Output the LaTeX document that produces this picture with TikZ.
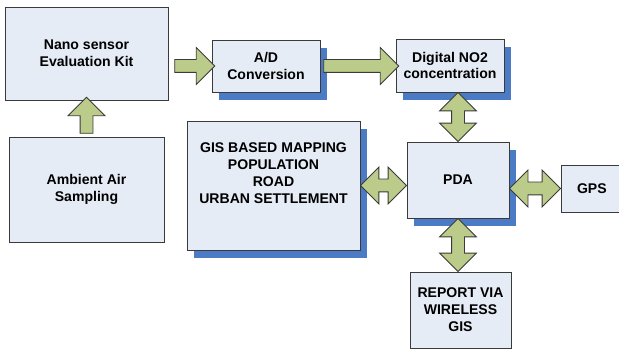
\documentclass[tikz,border=0pt]{standalone}
\usepackage{fontspec}
\setmainfont{Liberation Sans}
\usetikzlibrary{shapes.arrows,shadows,calc}

\definecolor{boxfill}{HTML}{E6ECF6}
\definecolor{boxshadow}{HTML}{4A7BC4}
\definecolor{arrowfill}{HTML}{BACB8A}
\definecolor{boxline}{HTML}{3A3A3A}

\tikzset{
  block/.style={rectangle, draw=boxline, line width=0.7pt, fill=boxfill, align=center,
    font=\bfseries\fontsize{10}{12}\selectfont},
  shadowed/.style={block, drop shadow={shadow xshift=0.175cm, shadow yshift=-0.2cm, fill=boxshadow, opacity=1}},
  flow/.style={draw=boxline, line width=0.6pt, fill=arrowfill, inner xsep=0pt, inner ysep=0.15cm},
  oneway/.style={flow, single arrow, single arrow head extend=0.3cm},
  twoway/.style={flow, double arrow, double arrow head extend=0.3cm}
}

\newcommand{\blockarrow}[3]{%
  \path let \p1=#2, \p2=#3, \n1={veclen(\x2-\x1,\y2-\y1)}, \n2={atan2(\y2-\y1,\x2-\x1)} in
    node[#1, minimum height=\n1, rotate=\n2] at ($(\p1)!0.5!(\p2)$) {};}

\begin{document}
\begin{tikzpicture}
  \clip (0,0) rectangle (15.475,-8.725);
  \node (nano) [block, minimum width=4.075cm, minimum height=2.325cm] at (2.1625,-1.3375) {Nano sensor\\Evaluation Kit};
  \node (ad) [shadowed, minimum width=2.7cm, minimum height=1.3cm] at (6.65,-1.65) {A/D\\Conversion};
  \node (no2) [shadowed, minimum width=2.7cm, minimum height=1.325cm] at (11.25,-1.6375) {Digital NO2\\concentration};
  \node (air) [block, minimum width=3.875cm, minimum height=2.625cm] at (2.1625,-4.7375) {Ambient Air\\Sampling};
  \node (gis) [shadowed, minimum width=4.325cm, minimum height=3.225cm] at (6.8375,-4.6375) {GIS BASED MAPPING\\POPULATION\\ROAD\\URBAN SETTLEMENT\\[0.2cm]};
  \node (pda) [shadowed, minimum width=2.55cm, minimum height=1.9cm] at (11.45,-4.5) {PDA};
  \node (gps) [block, minimum height=1.175cm, inner xsep=0pt, text width=2.6cm, align=left] at (15.325,-4.7125) {\hspace*{0.4cm}GPS};
  \node (report) [block, minimum width=2.525cm, minimum height=1.9cm] at (11.5125,-7.75) {REPORT VIA\\WIRELESS\\GIS};

  \blockarrow{oneway}{($(nano.east |- ad.west)+(0.075,0)$)}{(ad.west)}
  \blockarrow{oneway}{(ad.east)}{(ad.east -| no2.west)}
  \blockarrow{oneway}{(air.north)}{(nano.south)}
  \blockarrow{twoway}{(no2.south -| pda.north)}{(pda.north)}
  \blockarrow{twoway}{(gis.east)}{(gis.east -| pda.west)}
  \blockarrow{twoway}{(pda.east |- gps.west)}{(gps.west)}
  \blockarrow{twoway}{(pda.south)}{(pda.south |- report.north)}
\end{tikzpicture}
\end{document}
